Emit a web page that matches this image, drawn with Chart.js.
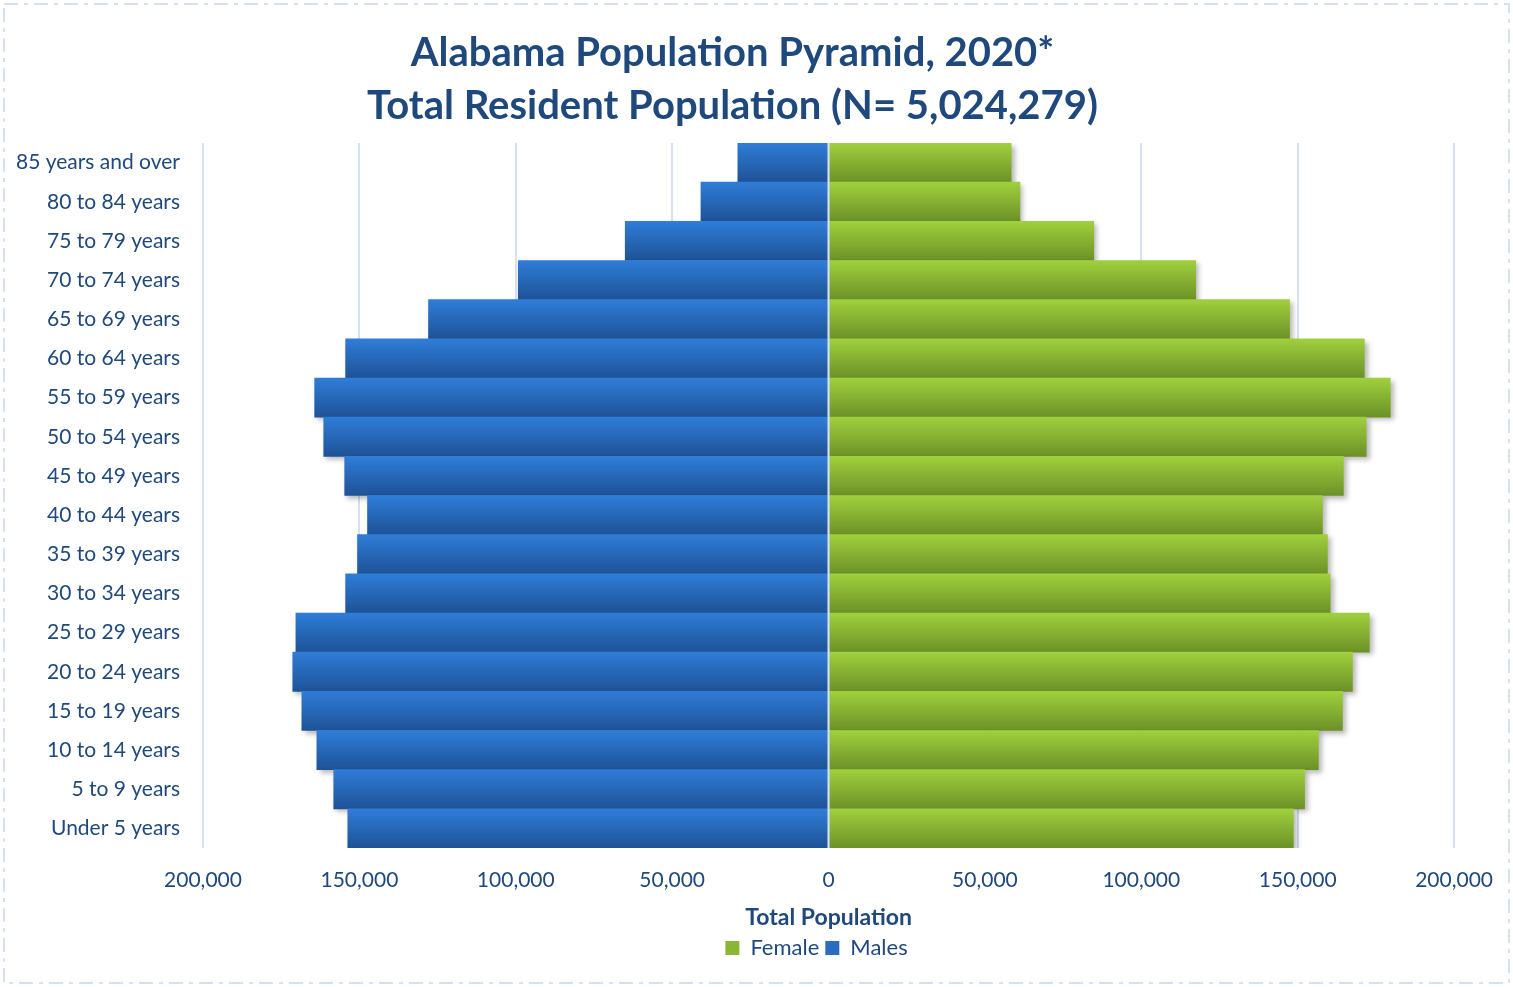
<!DOCTYPE html>
<html>
<head>
<meta charset="utf-8">
<script src="https://cdn.jsdelivr.net/npm/chart.js@4"></script>
<style>
  html, body { margin: 0; padding: 0; background: #fff; }
  #wrap { width: 1513px; height: 987px; }
</style>
</head>
<body>
<div id="wrap"><canvas id="pyramid" width="1513" height="987"></canvas></div>
<script>
/* ================= DATA ================= */
const ageGroups = [
  "85 years and over", "80 to 84 years", "75 to 79 years", "70 to 74 years",
  "65 to 69 years", "60 to 64 years", "55 to 59 years", "50 to 54 years",
  "45 to 49 years", "40 to 44 years", "35 to 39 years", "30 to 34 years",
  "25 to 29 years", "20 to 24 years", "15 to 19 years", "10 to 14 years",
  "5 to 9 years", "Under 5 years"
];
const femaleCounts = [
  58400, 61200, 84800, 117400, 147400, 171300, 179600, 171900, 164600,
  157900, 159500, 160400, 172900, 167500, 164300, 156600, 152200, 148600
];
const maleCounts = [
  29000, 40800, 65000, 99200, 127900, 154400, 164300, 161400, 154700,
  147400, 150600, 154400, 170300, 171300, 168400, 163600, 158200, 153700
];
const axisTicks = [-200000, -150000, -100000, -50000, 0, 50000, 100000, 150000, 200000];

const TEXT = "#1f497d";
const FONT = "Lato, 'Open Sans', sans-serif";

/* ================= HELPERS ================= */
function barGradient(top, bottom) {
  return function (ctx) {
    const chart = ctx.chart;
    if (ctx.type !== "data" || !chart.chartArea) return top;
    const yScale = chart.scales.y;
    const yc = yScale.getPixelForValue(ctx.dataIndex);
    const half = (chart.chartArea.bottom - chart.chartArea.top) / ageGroups.length / 2;
    const g = chart.ctx.createLinearGradient(0, yc - half, 0, yc + half);
    g.addColorStop(0, top);
    g.addColorStop(1, bottom);
    return g;
  };
}

// dash-dot frame round the whole picture
const framePlugin = {
  id: "frame",
  beforeDraw(chart) {
    const c = chart.ctx;
    c.save();
    c.strokeStyle = "#d6e0f0";
    c.lineWidth = 2;
    c.setLineDash([14, 6, 4, 6]);
    c.strokeRect(4, 4, chart.width - 8, chart.height - 8);
    c.restore();
  }
};

// soft shadow under bars, then the zero axis line on top
const shadowPlugin = {
  id: "barShadow",
  beforeDatasetsDraw(chart) {
    const c = chart.ctx;
    c.save();
    c.shadowColor = "rgba(0,0,0,0.28)";
    c.shadowBlur = 5;
    c.shadowOffsetX = 3;
    c.shadowOffsetY = 3;
  },
  afterDatasetsDraw(chart) {
    const c = chart.ctx;
    c.restore();
    const x0 = chart.scales.x.getPixelForValue(0);
    c.save();
    c.strokeStyle = "#d6e0f0";
    c.lineWidth = 2;
    c.beginPath();
    c.moveTo(x0, chart.chartArea.top);
    c.lineTo(x0, chart.chartArea.bottom);
    c.stroke();
    c.restore();
  }
};

// centre the legend under the plot area instead of the whole canvas
const legendShift = {
  id: "legendShift",
  afterLayout(chart) {
    const lg = chart.legend;
    if (!lg) return;
    const plotMid = (chart.chartArea.left + chart.chartArea.right) / 2;
    const boxMid = (lg.left + lg.right) / 2;
    const d = plotMid - boxMid - 12;
    lg.left += d;
    lg.right += d;
  }
};

/* ================= CHART ================= */
new Chart(document.getElementById("pyramid"), {
  type: "bar",
  data: {
    labels: ageGroups,
    datasets: [
      {
        label: "Female",
        data: femaleCounts,
        backgroundColor: barGradient("#a0d03d", "#6c9127"),
        legendColor: "#8ab535"
      },
      {
        label: "Males",
        data: maleCounts.map(v => -v),
        backgroundColor: barGradient("#2f7dd8", "#1e5296"),
        legendColor: "#2a6cc0"
      }
    ]
  },
  options: {
    indexAxis: "y",
    responsive: false,
    animation: false,
    barPercentage: 1,
    categoryPercentage: 1,
    layout: { padding: { top: 0, right: 54, bottom: 18, left: 6 } },
    scales: {
      x: {
        stacked: true,
        min: -200000,
        max: 200000,
        afterBuildTicks(scale) {
          scale.ticks = axisTicks.map(v => ({ value: v }));
        },
        afterFit(scale) { scale.height = 83; },
        grid: { color: "#d6e0f0", lineWidth: 2, drawTicks: false },
        border: { display: false },
        ticks: {
          padding: 20,
          color: TEXT,
          font: { family: FONT, size: 21 },
          callback: v => Math.abs(v).toLocaleString("en-US")
        },
        title: {
          display: true,
          text: "Total Population",
          color: TEXT,
          font: { family: FONT, size: 23, weight: "bold" },
          padding: { top: 0, bottom: 0 }
        }
      },
      y: {
        stacked: true,
        grid: { display: false, drawTicks: false },
        border: { display: false },
        ticks: {
          padding: 23,
          color: TEXT,
          font: { family: FONT, size: 21 }
        },
        afterFit(scale) { scale.width = 197; }
      }
    },
    plugins: {
      title: {
        display: true,
        text: ["Alabama Population Pyramid, 2020*", "Total Resident Population (N= 5,024,279)"],
        color: TEXT,
        font: { family: FONT, size: 40, weight: "bold", lineHeight: 1.325 },
        padding: { top: 27, bottom: 10 }
      },
      legend: {
        position: "bottom",
        labels: {
          color: TEXT,
          font: { family: FONT, size: 22 },
          boxWidth: 14,
          boxHeight: 14,
          padding: 6,
          generateLabels(chart) {
            return chart.data.datasets.map((ds, i) => ({
              text: ds.label,
              fillStyle: ds.legendColor,
              strokeStyle: ds.legendColor,
              lineWidth: 0,
              fontColor: TEXT,
              datasetIndex: i
            }));
          }
        }
      },
      tooltip: { enabled: false }
    }
  },
  plugins: [framePlugin, shadowPlugin, legendShift]
});
</script>
</body>
</html>
